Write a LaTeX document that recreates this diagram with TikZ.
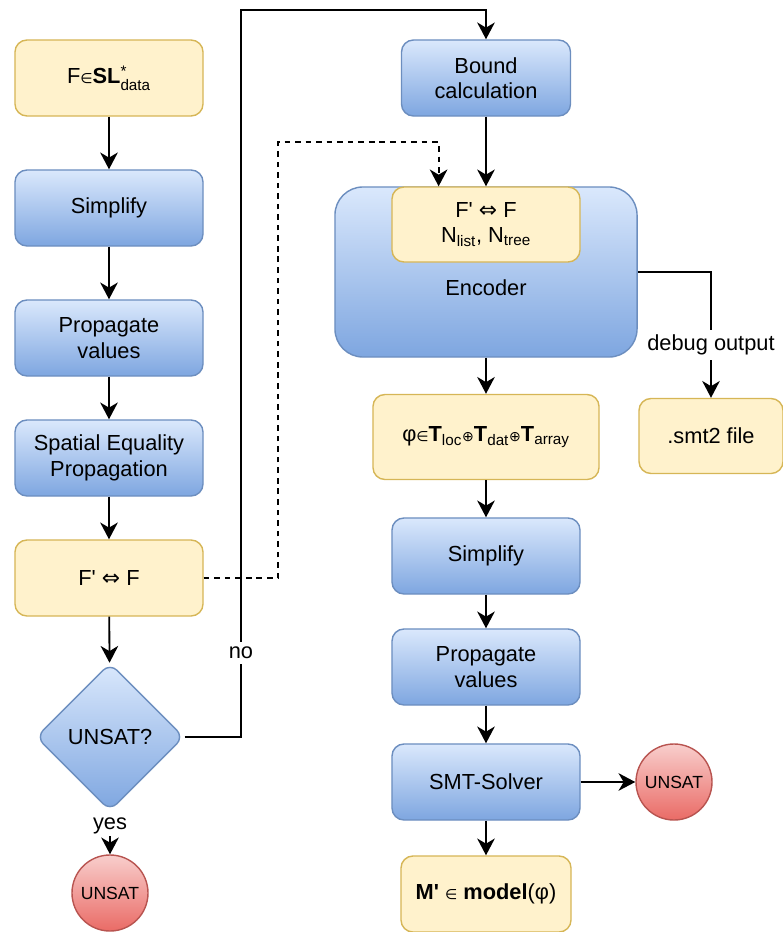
\documentclass[tikz,border=0pt]{standalone}
\usepackage{fontspec}
\usepackage{amsmath}
\setmainfont{Liberation Sans}[Ligatures=TeXOff]
\newfontfamily\symf{DejaVu Sans}
\usetikzlibrary{arrows.meta,shapes.geometric,calc}
\definecolor{blueTop}{HTML}{DAE8FC}
\definecolor{blueBot}{HTML}{7EA6E0}
\definecolor{blueLine}{HTML}{6C8EBF}
\definecolor{yelFill}{HTML}{FFF2CC}
\definecolor{yelLine}{HTML}{D6B656}
\definecolor{redTop}{HTML}{F8CECC}
\definecolor{redBot}{HTML}{EA6B66}
\definecolor{redLine}{HTML}{B85450}
\newcommand{\smsym}[1]{{\symf\fontsize{10}{10}\selectfont #1}}

\begin{document}
\begin{tikzpicture}[x=0.025cm,y=-0.025cm]
						\useasboundingbox (0,0) rectangle (782,932);
						\tikzstyle{every node}=[font=\fontsize{15.5}{18}\selectfont,align=center];
						\tikzstyle{bluebox}=[rectangle,rounded corners=0.3cm,draw=blueLine,line width=1pt,top color=blueTop,bottom color=blueBot,minimum width=4.7cm,minimum height=1.9cm,inner sep=0pt];
						\tikzstyle{yellowbox}=[rectangle,rounded corners=0.3cm,draw=yelLine,line width=1pt,fill=yelFill,minimum width=4.7cm,minimum height=1.9cm,inner sep=0pt];
						\tikzstyle{bluediamond}=[diamond,aspect=1,rounded corners=0.25cm,draw=blueLine,line width=1pt,top color=blueTop,bottom color=blueBot,minimum width=3.7cm,minimum height=3.7cm,inner sep=0pt];
						\tikzstyle{redcircle}=[circle,draw=redLine,line width=1pt,top color=redTop,bottom color=redBot,minimum size=1.9cm,inner sep=0pt,font=\fontsize{12.5}{15}\selectfont];
						\tikzstyle{link}=[line width=1.3pt,-{Stealth[length=4.2mm,width=4.4mm,inset=1.3mm]}];
						\tikzstyle{lbl}=[fill=white,inner sep=3.5pt];
						\path (109,78) node[yellowbox] (d0) {F\smsym{∈}\textbf{SL}$^{\text{*}}_{\text{data}}$};
						\path (109,208) node[bluebox] (s1) {Simplify};
						\path (109,338) node[bluebox] (p1) {Propagate\\values};
						\path (109,458) node[bluebox] (q1) {Spatial Equality\\Propagation};
						\path (109,578) node[yellowbox] (f1) {F' {\symf ⇔} F};
						\path (110,737) node[bluediamond] (u1) {UNSAT?};
						\path (110,893) node[redcircle] (c1) {UNSAT};
						\path (486,78) node[bluebox,minimum width=4.225cm] (b1) {Bound\\calculation};
						\path (486,272) node[bluebox,minimum width=7.55cm,minimum height=4.25cm,rounded corners=0.7cm] (e2) {};
						\path (486,224.5) node[yellowbox,minimum height=1.875cm] (y1) {F' {\symf ⇔} F\\N\textsubscript{list}, N\textsubscript{tree}};
						\path (486,288) node (e3) {Encoder};
						\path (486,437) node[yellowbox,minimum width=5.65cm,minimum height=2.125cm] (h1) {φ\smsym{∈}\textbf{T}\textsubscript{loc}\smsym{⊕}\textbf{T}\textsubscript{dat}\smsym{⊕}\textbf{T}\textsubscript{array}};
						\path (711,436) node[yellowbox,minimum width=3.6cm,minimum height=1.875cm] (t1) {.smt2 file};
						\path (486,556) node[bluebox] (s2) {Simplify};
						\path (486,667) node[bluebox] (p2) {Propagate\\values};
						\path (486,782) node[bluebox] (m1) {SMT-Solver};
						\path (674,782) node[redcircle] (c2) {UNSAT};
						\path (486,894) node[yellowbox,minimum width=4.25cm] (r1) {\textbf{M'} \smsym{∈} \textbf{model}(φ)};
						\path ($(y1.north west)!0.25!(y1.north east)$) coordinate (k1);
						\draw[link] (d0) -- (s1);
						\draw[link] (s1) -- (p1);
						\draw[link] (p1) -- (q1);
						\draw[link] (q1) -- (f1);
						\draw[link] (f1) -- (u1);
						\draw[link,shorten <=2pt] (u1) -- node[lbl,inner sep=1pt,text height=2ex,pos=0.3] {yes} (c1);
						\draw[link] (u1.east) -| node[lbl,pos=0.558] {no} (241,10) -| (b1.north);
						\draw[link,dash pattern=on 4pt off 3.5pt] (f1.east) -| (278,142) -| (k1);
						\draw[link] (b1) -- (y1);
						\draw[link] (e2.east) -| node[lbl,pos=0.79] {debug output} (t1.north);
						\draw[link] (e2) -- (h1);
						\draw[link] (h1) -- (s2);
						\draw[link] (s2) -- (p2);
						\draw[link] (p2) -- (m1);
						\draw[link] (m1) -- (c2);
						\draw[link] (m1) -- (r1);
					\end{tikzpicture}
\end{document}
